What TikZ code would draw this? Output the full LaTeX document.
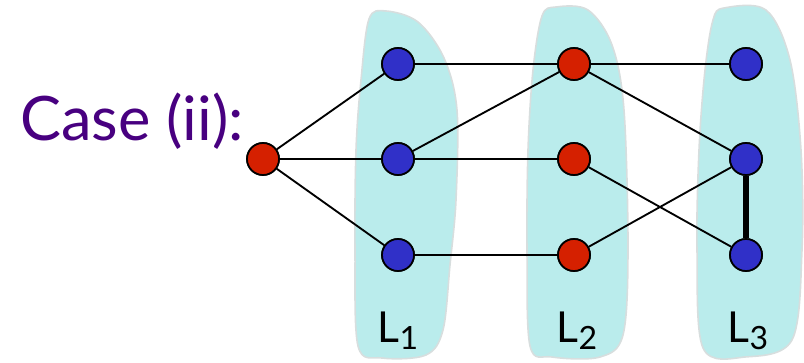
\documentclass[tikz,border=0pt]{standalone}
\usepackage{fontspec}
\setmainfont{Lato}
\begin{document}
\definecolor{layerfill}{RGB}{186,236,236}
\definecolor{layeredge}{RGB}{215,222,222}
\definecolor{rednode}{RGB}{213,32,0}
\definecolor{bluenode}{RGB}{48,48,200}
\definecolor{casepurple}{RGB}{72,0,128}
\begin{tikzpicture}[x=0.75pt,y=-0.75pt,
  layer/.style={fill=layerfill,draw=layeredge,line width=1.2pt},
  vtx/.style={circle,draw=black,line width=1.3pt,minimum size=24pt,inner sep=0pt},
  rv/.style={vtx,fill=rednode},
  bv/.style={vtx,fill=bluenode},
  edge/.style={line width=1.4pt},
  heavy/.style={line width=5pt},
  lbl/.style={font=\fontsize{32}{34}\selectfont,anchor=base}]
\useasboundingbox (0,0) rectangle (804,363);

% layer regions
\draw[layer] plot[smooth cycle,tension=0.55] coordinates {
  (369,19) (386,11) (418,22) (444,58) (457,110) (456,200) (450,265)
  (443,330) (426,355) (382,358) (358,346) (355,250) (356,150) (361,80)};
\draw[layer] plot[smooth cycle,tension=0.55] coordinates {
  (542,16) (556,7) (588,10) (612,45) (624,110) (628,250) (623,335)
  (600,357) (552,357) (530,346) (527,250) (528,150) (533,70)};
\draw[layer] plot[smooth cycle,tension=0.55] coordinates {
  (713,20) (724,8) (766,10) (790,60) (801,150) (802,250) (792,340)
  (745,357) (703,348) (697,250) (699,150) (705,70)};

% vertices
\node[rv] (s) at (263,159) {};
\node[bv] (a1) at (398,64) {};
\node[bv] (a2) at (398,159) {};
\node[bv] (a3) at (398,255) {};
\node[rv] (b1) at (574,64) {};
\node[rv] (b2) at (574,159) {};
\node[rv] (b3) at (574,255) {};
\node[bv] (c1) at (746,64) {};
\node[bv] (c2) at (746,159) {};
\node[bv] (c3) at (746,255) {};

% edges
\draw[edge] (s) -- (a1);
\draw[edge] (s) -- (a2);
\draw[edge] (s) -- (a3);
\draw[edge] (a1) -- (b1);
\draw[edge] (a2) -- (b1);
\draw[edge] (a2) -- (b2);
\draw[edge] (a3) -- (b3);
\draw[edge] (b1) -- (c1);
\draw[edge] (b1) -- (c2);
\draw[edge] (b2) -- (c3);
\draw[edge] (b3) -- (c2);
\draw[heavy] (c2) -- (c3);

% redraw vertices above the edges
\foreach \n in {s,b1,b2,b3} \node[rv] at (\n) {};
\foreach \n in {a1,a2,a3,c1,c2,c3} \node[bv] at (\n) {};

% labels
\node[font=\fontsize{46}{50}\selectfont,text=casepurple,anchor=base west,inner sep=0pt] (case) at (20,141) {Case (ii):};
\node[lbl] (l1) at (398,343) {L\raisebox{-0.3ex}{\fontsize{24}{26}\selectfont 1}};
\node[lbl] (l2) at (577,343) {L\raisebox{-0.3ex}{\fontsize{24}{26}\selectfont 2}};
\node[lbl] (l3) at (748,343) {L\raisebox{-0.3ex}{\fontsize{24}{26}\selectfont 3}};
\end{tikzpicture}
\end{document}
